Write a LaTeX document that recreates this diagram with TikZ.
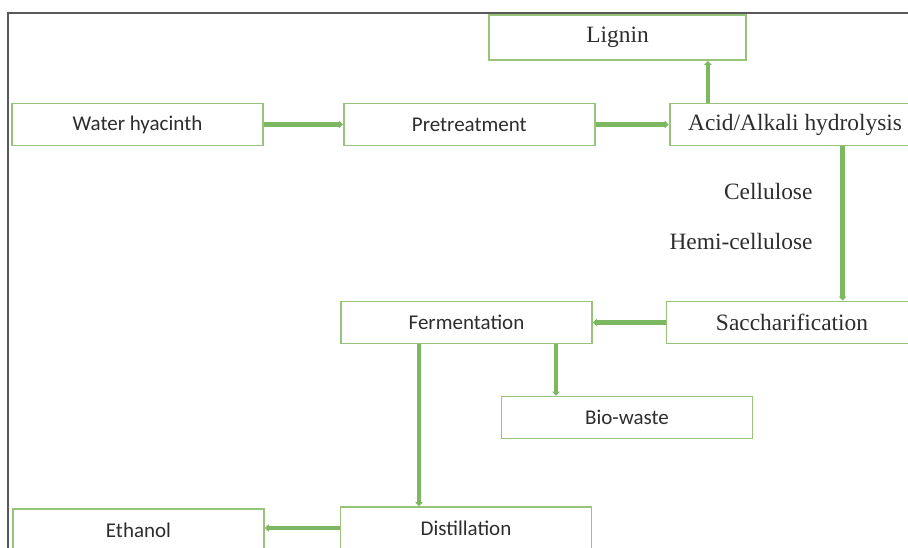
\documentclass[tikz,border=0pt]{standalone}
\usepackage{fontspec}
\setmainfont{Liberation Serif}
\newfontfamily\calib{Carlito}
\usetikzlibrary{positioning, arrows.meta}
\definecolor{boxgreen}{RGB}{150,196,120}
\definecolor{flowgreen}{RGB}{124,184,96}
\definecolor{inkgray}{RGB}{45,45,45}

\begin{document}
\begin{tikzpicture}[
	x=1pt,
	y=-1pt,
	every stage/.style={draw=boxgreen, line width=1.8pt, minimum width=251pt, minimum height=42pt, inner sep=0pt, text=inkgray},
	sans stage/.style={every stage, font=\calib\fontsize{21}{24}\selectfont},
	serif stage/.style={every stage, font=\fontsize{23.4}{26}\selectfont},
	flow/.style={draw=flowgreen, line width=4.5pt, -{Triangle[length=4pt, width=7.5pt]}},
	stream/.style={text=inkgray, font=\fontsize{23.4}{26}\selectfont, anchor=east}
]
\useasboundingbox (0,0) rectangle (908,548);
\clip (0,0) rectangle (908,548);

% outer frame
\draw[gray!70!black, line width=1.3pt] (8,560) -- (8,13) -- (920,13);

\node[sans stage] (water) at (137.5,124.5) {Water hyacinth};
\node[sans stage, right=79pt of water] (pretreat) {Pretreatment};
\node[serif stage, right=73pt of pretreat] (hydro) {Acid/Alkali hydrolysis};
\node[serif stage, minimum width=257pt, minimum height=45pt] (lignin) at (617.5,37.5) {Lignin};
\node[serif stage] (sacch) at (792,322.5) {Saccharification};
\node[sans stage] (ferment) at (466.5,322.5) {Fermentation};
\node[sans stage] (biowaste) at (627,417.5) {Bio-waste};
\node[sans stage] (distil) at (466,528) {Distillation};
\node[sans stage] (ethanol) at (138.5,530) {Ethanol};

\node[stream] (cell) at (816,191) {Cellulose};
\node[stream] (hemi) at (816,241) {Hemi-cellulose};

\draw[flow] (water) -- (pretreat);
\draw[flow] (pretreat) -- (hydro);
\draw[flow] (hydro.north -| lignin.south east) ++(-39,0) coordinate (up) -- (up |- lignin.south);
\draw[flow] ([xshift=47.5pt]hydro.south) -- ([xshift=47.5pt]hydro.south |- sacch.north);
\draw[flow] (sacch) -- (ferment);
\draw[flow] ([xshift=89.5pt]ferment.south) -- ([xshift=89.5pt]ferment.south |- biowaste.north);
\draw[flow] ([xshift=-47.5pt]ferment.south) -- ([xshift=-47.5pt]ferment.south |- distil.north);
\draw[flow] (distil.west |- 0,528) -- (ethanol.east |- 0,528);

\end{tikzpicture}
\end{document}
